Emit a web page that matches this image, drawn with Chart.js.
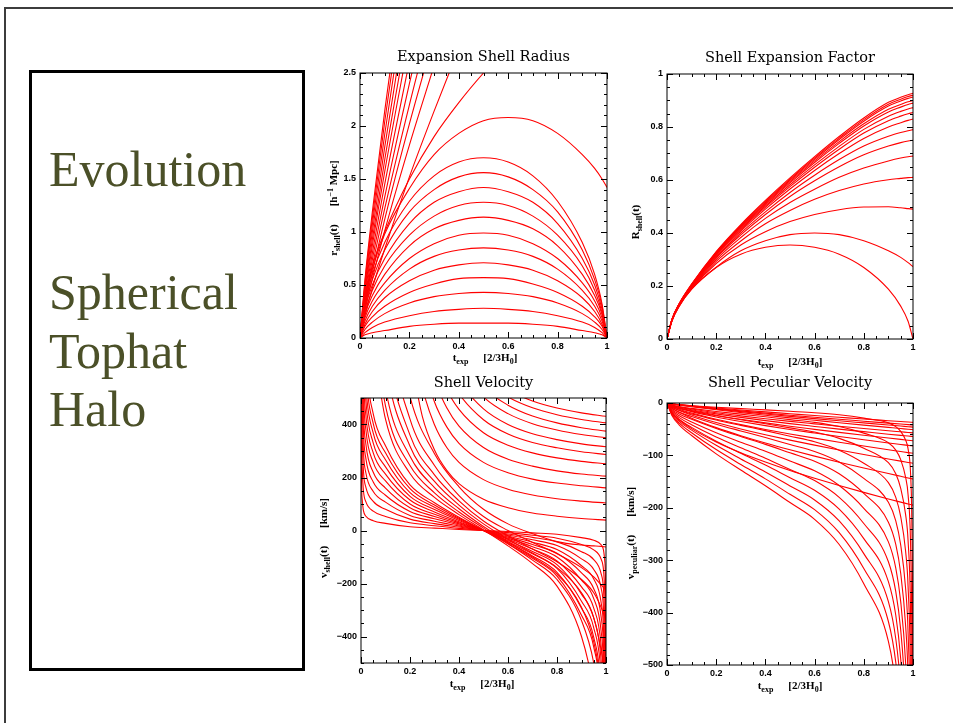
<!DOCTYPE html>
<html>
<head>
<meta charset="utf-8">
<title>Evolution - Spherical Tophat Halo</title>
<script src="https://cdn.jsdelivr.net/npm/chart.js@4.4.1/dist/chart.umd.min.js"></script>
<style>
    html, body { margin: 0; padding: 0; background: #fff; }
    body { width: 953px; height: 723px; position: relative; overflow: hidden; }
    #slide { position: absolute; left: 4px; top: 7px; width: 1000px; height: 800px;
             border-left: 2px solid #3c3c3c; border-top: 2px solid #3c3c3c; }
    #box { position: absolute; left: 29px; top: 70px; width: 270px; height: 595px; border: 3px solid #000; }
    .cap { position: absolute; left: 49px; font-family: "Liberation Serif", serif; font-size: 50px;
           line-height: 50px; color: #4b5028; white-space: nowrap; }
    canvas { position: absolute; }
</style>
</head>
<body>
<div id="slide"></div>
<div id="box"></div>
<div class="cap" style="top:144px">Evolution</div>
<div class="cap" style="top:267px">Spherical</div>
<div class="cap" style="top:326px">Tophat</div>
<div class="cap" style="top:384px">Halo</div>

<canvas id="radius" width="315" height="330" style="left:300px;top:40px"></canvas>
<canvas id="expansion" width="320" height="330" style="left:620px;top:40px"></canvas>
<canvas id="velocity" width="315" height="330" style="left:300px;top:370px"></canvas>
<canvas id="peculiar" width="320" height="330" style="left:620px;top:370px"></canvas>

<script>
// tick labels
const timeTicks = [0, 0.2, 0.4, 0.6, 0.8, 1];
const radTicks = [0, 0.5, 1, 1.5, 2, 2.5];
const expTicks = [0, 0.2, 0.4, 0.6, 0.8, 1];
const velTicks = [-400, -200, 0, 200, 400];
const pecTicks = [-500, -400, -300, -200, -100, 0];

// Expansion Shell Radius  [h^-1 Mpc]
const tRad = [0, 0.02, 0.05, 0.1, 0.2, 0.3, 0.4, 0.5, 0.6, 0.7, 0.8, 0.9, 0.95, 0.98, 1];
const radiusTophat = [
    [0, 0.03, 0.05, 0.07, 0.11, 0.13, 0.14, 0.14, 0.14, 0.13, 0.11, 0.07, 0.05, 0.03, 0],
    [0, 0.05, 0.10, 0.15, 0.21, 0.25, 0.27, 0.28, 0.27, 0.25, 0.21, 0.15, 0.10, 0.05, 0],
    [0, 0.08, 0.15, 0.23, 0.33, 0.39, 0.42, 0.43, 0.42, 0.39, 0.33, 0.23, 0.15, 0.08, 0],
    [0, 0.11, 0.20, 0.30, 0.43, 0.51, 0.56, 0.57, 0.56, 0.51, 0.43, 0.30, 0.20, 0.11, 0],
    [0, 0.13, 0.25, 0.38, 0.54, 0.64, 0.69, 0.71, 0.69, 0.64, 0.54, 0.38, 0.25, 0.13, 0],
    [0, 0.16, 0.30, 0.45, 0.65, 0.77, 0.83, 0.85, 0.83, 0.77, 0.65, 0.45, 0.30, 0.16, 0],
    [0, 0.19, 0.35, 0.52, 0.75, 0.89, 0.97, 0.99, 0.97, 0.89, 0.75, 0.52, 0.35, 0.19, 0],
    [0, 0.22, 0.40, 0.60, 0.87, 1.03, 1.11, 1.14, 1.11, 1.03, 0.87, 0.60, 0.40, 0.22, 0],
    [0, 0.24, 0.45, 0.68, 0.97, 1.15, 1.25, 1.28, 1.25, 1.15, 0.97, 0.68, 0.45, 0.24, 0],
    [0, 0.27, 0.50, 0.75, 1.08, 1.28, 1.38, 1.42, 1.38, 1.28, 1.08, 0.75, 0.50, 0.27, 0],
    [0, 0.30, 0.55, 0.83, 1.19, 1.40, 1.52, 1.56, 1.52, 1.40, 1.19, 0.83, 0.55, 0.30, 0],
    [0, 0.32, 0.60, 0.90, 1.29, 1.53, 1.66, 1.70, 1.66, 1.53, 1.29, 0.90, 0.60, 0.32, 0]
];
const radiusOuter = [
    [0, 0.36, 0.65, 0.98, 1.41, 1.73, 1.93, 2.05, 2.08, 2.05, 1.93, 1.73, 1.60, 1.50, 1.42],
    [0, 0.38, 0.68, 1.00, 1.50, 1.90, 2.22, 2.50, 2.75, 2.95],
    [0, 0.21, 0.47, 0.84, 1.52, 2.14, 2.73],
    [0, 0.26, 0.56, 1.01, 1.82, 2.57],
    [0, 0.29, 0.62, 1.12, 2.02, 2.85],
    [0, 0.31, 0.68, 1.22, 2.20, 3.11],
    [0, 0.34, 0.74, 1.33, 2.40, 3.39],
    [0, 0.37, 0.80, 1.45, 2.61],
    [0, 0.40, 0.87, 1.57, 2.83],
    [0, 0.43, 0.93, 1.68, 3.02],
    [0, 0.46, 1.00, 1.80, 3.25],
    [0, 0.49, 1.07, 1.92, 3.47],
    [0, 0.52, 1.13, 2.04, 3.68],
    [0, 0.55, 1.19, 2.14, 3.86]
];

// Shell Expansion Factor
const tExp = [0, 0.02, 0.05, 0.1, 0.2, 0.3, 0.4, 0.5, 0.6, 0.7, 0.8, 0.9, 0.95, 0.98, 1];
const expFactor = [
    [0, 0.067, 0.124, 0.188, 0.270, 0.320, 0.346, 0.355, 0.346, 0.320, 0.270, 0.188, 0.124, 0.067, 0],
    [0, 0.069, 0.125, 0.188, 0.271, 0.333, 0.371, 0.394, 0.400, 0.394, 0.371, 0.333, 0.308, 0.288, 0.273],
    [0, 0.069, 0.126, 0.190, 0.285, 0.355, 0.405, 0.443, 0.470, 0.488, 0.498, 0.499, 0.495, 0.492, 0.490],
    [0, 0.070, 0.127, 0.192, 0.293, 0.370, 0.435, 0.485, 0.527, 0.560, 0.585, 0.601, 0.606, 0.609, 0.610],
    [0, 0.070, 0.128, 0.194, 0.300, 0.383, 0.455, 0.515, 0.565, 0.610, 0.645, 0.672, 0.683, 0.688, 0.690],
    [0, 0.071, 0.129, 0.196, 0.306, 0.393, 0.470, 0.538, 0.597, 0.650, 0.695, 0.728, 0.741, 0.747, 0.750],
    [0, 0.071, 0.130, 0.198, 0.310, 0.400, 0.480, 0.553, 0.618, 0.677, 0.728, 0.765, 0.779, 0.786, 0.790],
    [0, 0.072, 0.131, 0.200, 0.315, 0.407, 0.490, 0.566, 0.636, 0.700, 0.757, 0.800, 0.816, 0.825, 0.830],
    [0, 0.072, 0.131, 0.201, 0.318, 0.412, 0.497, 0.575, 0.648, 0.716, 0.777, 0.824, 0.841, 0.850, 0.855],
    [0, 0.072, 0.132, 0.202, 0.320, 0.416, 0.502, 0.582, 0.657, 0.727, 0.791, 0.841, 0.859, 0.868, 0.873],
    [0, 0.073, 0.132, 0.203, 0.322, 0.420, 0.507, 0.589, 0.666, 0.738, 0.804, 0.857, 0.875, 0.885, 0.890],
    [0, 0.073, 0.133, 0.204, 0.324, 0.423, 0.511, 0.594, 0.672, 0.745, 0.812, 0.867, 0.885, 0.895, 0.900],
    [0, 0.073, 0.133, 0.205, 0.326, 0.426, 0.515, 0.599, 0.678, 0.753, 0.822, 0.879, 0.898, 0.908, 0.913],
    [0, 0.074, 0.134, 0.206, 0.328, 0.429, 0.519, 0.603, 0.683, 0.758, 0.828, 0.886, 0.905, 0.915, 0.920],
    [0, 0.074, 0.134, 0.207, 0.330, 0.432, 0.523, 0.608, 0.688, 0.764, 0.834, 0.893, 0.912, 0.922, 0.927]
];

// Shell Velocity  [km/s]
const tVelTophat = [0, 0.002, 0.005, 0.01, 0.02, 0.05, 0.1, 0.2, 0.3, 0.4, 0.5, 0.6, 0.7, 0.8, 0.9, 0.95, 0.98, 0.99, 0.995, 0.998, 1];
const velTophat = [
    [750, 208, 117, 75, 54, 37, 27, 14, 9, 4, 0, -4, -9, -14, -27, -37, -54, -75, -117, -208, -750],
    [1500, 417, 233, 150, 108, 73, 53, 29, 18, 8, 0, -8, -18, -29, -53, -73, -108, -150, -233, -417, -1500],
    [2250, 625, 350, 225, 163, 110, 80, 43, 26, 13, 0, -13, -26, -43, -80, -110, -163, -225, -350, -625, -2250],
    [3000, 833, 467, 300, 217, 147, 107, 57, 35, 17, 0, -17, -35, -57, -107, -147, -217, -300, -467, -833, -3000],
    [3750, 1042, 583, 375, 271, 183, 133, 72, 44, 21, 0, -21, -44, -72, -133, -183, -271, -375, -583, -1042, -3750],
    [4500, 1250, 700, 450, 325, 220, 160, 86, 53, 25, 0, -25, -53, -86, -160, -220, -325, -450, -700, -1250, -4500],
    [5250, 1458, 817, 525, 379, 257, 187, 100, 61, 29, 0, -29, -61, -100, -187, -257, -379, -525, -817, -1458, -5250],
    [6000, 1667, 933, 600, 433, 293, 213, 115, 70, 33, 0, -33, -70, -115, -213, -293, -433, -600, -933, -1667, -6000],
    [6750, 1875, 1050, 675, 488, 330, 240, 129, 79, 38, 0, -38, -79, -129, -240, -330, -488, -675, -1050, -1875, -6750],
    [7500, 2083, 1167, 750, 542, 367, 267, 143, 88, 42, 0, -42, -88, -143, -267, -367, -542, -750, -1167, -2083, -7500],
    [8250, 2292, 1283, 825, 596, 403, 293, 158, 96, 46, 0, -46, -96, -158, -293, -403, -596, -825, -1283, -2292, -8250],
    [9000, 2500, 1400, 900, 650, 440, 320, 172, 105, 50, 0, -50, -105, -172, -320, -440, -650, -900, -1400, -2500, -9000]
];
const tVelLate = [0.05, 0.1, 0.2, 0.3, 0.4, 0.5, 0.6, 0.7, 0.8, 0.9, 0.95, 0.98, 1];
const velLate = [
    [700, 420, 215, 125, 60, 2, -58, -125, -210, -400, -600, -800, -1000],
    [800, 470, 245, 142, 70, 9, -50, -112, -185, -340, -500, -700, -900],
    [900, 535, 280, 162, 82, 15, -43, -100, -165, -290, -420, -580, -750],
    [1050, 630, 318, 185, 96, 25, -33, -85, -140, -235, -330, -450, -560],
    [1200, 720, 360, 210, 112, 36, -20, -70, -118, -185, -235, -290, -340],
    [1400, 840, 420, 245, 132, 53, 0, -45, -88, -140, -175, -205, -225],
    [1600, 1000, 505, 290, 165, 80, 25, -12, -42, -55, -58, -60, -62]
];
const tVelFree = [0.2, 0.25, 0.3, 0.35, 0.4, 0.5, 0.6, 0.7, 0.8, 0.9, 1];
const velFree = [
    [668, 432, 304, 227, 177, 118, 86, 66, 54, 45, 39],
    [804, 542, 399, 313, 257, 192, 156, 134, 120, 111, 104],
    [931, 642, 485, 391, 329, 257, 218, 194, 179, 169, 161],
    [1070, 746, 570, 463, 394, 313, 269, 243, 225, 213, 205],
    [1190, 838, 647, 532, 457, 369, 322, 293, 274, 261, 252],
    [1332, 940, 727, 599, 516, 418, 364, 332, 312, 297, 287],
    [1456, 1029, 796, 656, 565, 459, 400, 365, 343, 327, 316],
    [1582, 1120, 869, 718, 620, 504, 441, 403, 379, 362, 350],
    [1697, 1201, 932, 770, 664, 540, 473, 432, 406, 388, 375],
    [1729, 1233, 963, 801, 695, 571, 504, 463, 437, 419, 406],
    [1773, 1270, 996, 832, 725, 599, 530, 489, 462, 444, 431]
];

// Shell Peculiar Velocity  [km/s]
const tPecTophat = [0, 0.02, 0.05, 0.1, 0.2, 0.3, 0.4, 0.5, 0.6, 0.7, 0.8, 0.9, 0.93, 0.95, 0.97, 0.98, 0.99, 0.995, 0.998, 1];
const pecTophat = [
    [0, -2, -3.5, -5.2, -8.1, -10.7, -13.2, -15.8, -18.5, -22.5, -28.8, -37.9, -45, -54.2, -70.8, -87.5, -133, -217, -375, -750],
    [0, -4, -7, -10.3, -16.2, -21.3, -26.3, -31.7, -37, -45, -57.5, -75.8, -90, -108, -142, -175, -267, -433, -750, -1500],
    [0, -6, -10.5, -15.5, -24.3, -32, -39.5, -47.5, -55.5, -67.5, -86.3, -114, -135, -163, -213, -263, -400, -650, -1125, -2250],
    [0, -8, -14, -20.7, -32.3, -42.7, -52.7, -63.3, -74, -90, -115, -152, -180, -217, -283, -350, -533, -867, -1500, -3000],
    [0, -10, -17.5, -25.8, -40.4, -53.3, -65.8, -79.2, -92.5, -112.5, -143.8, -189.6, -225, -271, -354, -438, -667, -1083, -1875, -3750],
    [0, -12, -21, -31, -48.5, -64, -79, -95, -111, -135, -172.5, -227.5, -270, -325, -425, -525, -800, -1300, -2250, -4500],
    [0, -14, -24.5, -36.2, -56.6, -74.7, -92.2, -110.8, -129.5, -157.5, -201, -265, -315, -379, -496, -613, -933, -1517, -2625, -5250],
    [0, -16, -28, -41.3, -64.7, -85.3, -105.3, -126.7, -148, -180, -230, -303, -360, -433, -567, -700, -1067, -1733, -3000, -6000],
    [0, -18, -31.5, -46.5, -72.8, -96, -118.5, -142.5, -166.5, -202.5, -258.8, -341, -405, -488, -638, -788, -1200, -1950, -3375, -6750],
    [0, -20, -35, -51.7, -80.8, -106.7, -131.7, -158.3, -185, -225, -287.5, -379, -450, -542, -708, -875, -1333, -2167, -3750, -7500],
    [0, -22, -38.5, -56.8, -88.9, -117.3, -144.8, -174.2, -203.5, -247.5, -316, -417, -495, -596, -779, -963, -1467, -2383, -4125, -8250],
    [0, -24, -42, -62, -97, -128, -158, -190, -222, -270, -345, -455, -540, -650, -850, -1050, -1600, -2600, -4500, -9000]
];
const tPecFree = [0, 0.02, 0.05, 0.1, 0.2, 0.3, 0.4, 0.5, 0.6, 0.7, 0.8, 0.9, 0.95, 0.98, 1];
const pecFree = [
    [0, -1.3, -2.9, -5.2, -9.4, -13.3, -17, -20.5, -24, -27.3, -30.6, -33.8, -35.4, -36.4, -37],
    [0, -1.5, -3.3, -5.9, -10.7, -15.1, -19.3, -23.3, -27.2, -31, -34.7, -38.4, -40.2, -41.3, -42],
    [0, -1.7, -3.6, -6.5, -11.7, -16.5, -21.1, -25.5, -29.8, -34, -38, -42, -44, -45.2, -46],
    [0, -1.8, -4, -7.2, -13, -18.3, -23.4, -28.3, -33, -37.7, -42.2, -46.6, -48.8, -50.1, -51],
    [0, -3.7, -7, -11.4, -18.5, -24.5, -30, -35.1, -39.8, -44.4, -48.7, -53, -55, -56.2, -57],
    [0, -4.2, -7.9, -12.8, -20.7, -27.5, -33.7, -39.4, -44.7, -49.9, -54.7, -59.5, -61.8, -63.1, -64],
    [0, -4.7, -8.9, -14.4, -23.3, -31, -37.9, -44.4, -50.3, -56.1, -61.6, -66.9, -69.5, -71, -72],
    [0, -5.3, -10.1, -16.4, -26.6, -35.3, -43.2, -50.5, -57.3, -63.9, -70.1, -76.2, -79.1, -80.9, -82],
    [0, -6.2, -11.8, -19.2, -31.1, -41.3, -50.6, -59.1, -67.1, -74.8, -82.1, -89.2, -92.6, -94.7, -96],
    [0, -7.5, -14.1, -23, -37.3, -49.5, -60.6, -70.8, -80.4, -89.6, -98.3, -106.8, -111, -113.4, -115],
    [0, -9.4, -17.8, -29, -47, -62.4, -76.4, -89.3, -101.4, -113, -124, -134.7, -139.9, -143, -145],
    [0, -18.7, -32.4, -48.9, -74.3, -94.8, -112.5, -128.7, -143.5, -157.4, -170.6, -183.1, -189.2, -192.7, -195]
];

const RED = 'rgb(255, 0, 0)';

function series(xs, ys) {
    const pts = [];
    ys.forEach((y, i) => {
        if (y !== null && y !== undefined) pts.push({ x: xs[i], y: y });
    });
    return pts;
}

function lines(xs, group) {
    return group.map(ys => ({
        data: series(xs, ys),
        borderColor: RED,
        borderWidth: 1.1,
        pointRadius: 0,
        fill: false,
        cubicInterpolationMode: 'monotone'
    }));
}

function fmt(v) {
    return v < 0 ? '\u2212' + Math.abs(v) : String(v);
}

// text with sub/superscripts, centred on (cx, cy)
function drawRuns(ctx, runs, cx, cy, vertical) {
    const big = 'bold 11px "Liberation Serif"';
    const small = 'bold 8px "Liberation Serif"';
    const widths = runs.map(r => {
        if (r[1] === 'gap') return r[2];
        ctx.font = r[1] ? small : big;
        return ctx.measureText(r[0]).width;
    });
    const total = widths.reduce((a, b) => a + b, 0);
    ctx.save();
    ctx.translate(cx, cy);
    if (vertical) ctx.rotate(-Math.PI / 2);
    ctx.fillStyle = '#000';
    ctx.textBaseline = 'alphabetic';
    ctx.textAlign = 'left';
    let x = -total / 2;
    runs.forEach((r, i) => {
        if (r[1] !== 'gap') {
            ctx.font = r[1] ? small : big;
            const dy = r[1] === 'sub' ? 3 : (r[1] === 'sup' ? -4 : 0);
            ctx.fillText(r[0], x, 4 + dy);
        }
        x += widths[i];
    });
    ctx.restore();
}

// box with inward ticks on all four sides, plus titles
const framePlugin = {
    id: 'frame',
    afterDraw(chart, args, o) {
        const ctx = chart.ctx;
        const a = chart.chartArea;
        const xs = chart.scales.x, ys = chart.scales.y;
        ctx.save();
        ctx.strokeStyle = '#000';
        ctx.lineWidth = 1;
        ctx.strokeRect(a.left, a.top, a.right - a.left, a.bottom - a.top);
        ctx.beginPath();
        const xTick = (v, len) => {
            const p = Math.round(xs.getPixelForValue(v)) + 0.5;
            ctx.moveTo(p, a.bottom); ctx.lineTo(p, a.bottom - len);
            ctx.moveTo(p, a.top); ctx.lineTo(p, a.top + len);
        };
        const yTick = (v, len) => {
            const p = Math.round(ys.getPixelForValue(v)) + 0.5;
            ctx.moveTo(a.left, p); ctx.lineTo(a.left + len, p);
            ctx.moveTo(a.right, p); ctx.lineTo(a.right - len, p);
        };
        for (let v = xs.min; v <= xs.max + 1e-9; v += o.xMinor) xTick(v, 3);
        for (let v = ys.min; v <= ys.max + 1e-9; v += o.yMinor) yTick(v, 3);
        o.xTicks.forEach(v => xTick(v, 6));
        o.yTicks.forEach(v => yTick(v, 6));
        ctx.stroke();

        ctx.fillStyle = '#000';
        ctx.font = '14.5px "DejaVu Serif"';
        ctx.textAlign = 'center';
        ctx.textBaseline = 'middle';
        ctx.fillText(o.title, (a.left + a.right) / 2, o.titleY);
        ctx.restore();

        drawRuns(ctx, o.xTitle, o.xPos[0], o.xPos[1], false);
        drawRuns(ctx, o.yTitle, o.yPos[0], o.yPos[1], true);
    }
};

const xTitleRuns = [['t', ''], ['exp', 'sub'], ['', 'gap', 15], ['[2/3H', ''], ['0', 'sub'], [']', '']];
const tickFont = { family: 'Liberation Sans', weight: 'bold', size: 9 };

function panel(id, c) {
    return new Chart(document.getElementById(id), {
        type: 'line',
        data: { datasets: c.datasets },
        options: {
            responsive: false,
            animation: false,
            events: [],
            layout: { padding: { top: c.padTop, right: c.padRight, left: 0, bottom: 0 } },
            plugins: {
                legend: { display: false },
                tooltip: { enabled: false },
                title: { display: false },
                frame: {
                    title: c.title, titleY: c.titleY,
                    xTicks: timeTicks, yTicks: c.yTicks,
                    xMinor: 0.05, yMinor: c.yMinor,
                    xTitle: xTitleRuns, xPos: c.xPos,
                    yTitle: c.yTitle, yPos: c.yPos
                }
            },
            scales: {
                x: {
                    type: 'linear', min: 0, max: 1,
                    grid: { display: false, drawTicks: false },
                    border: { display: false },
                    afterBuildTicks: s => { s.ticks = timeTicks.map(v => ({ value: v })); },
                    afterFit: s => { s.height = c.xH; },
                    ticks: { font: tickFont, color: '#000', padding: 3, maxRotation: 0, autoSkip: false, callback: fmt }
                },
                y: {
                    type: 'linear', min: c.yMin, max: c.yMax,
                    grid: { display: false, drawTicks: false },
                    border: { display: false },
                    afterBuildTicks: s => { s.ticks = c.yTicks.map(v => ({ value: v })); },
                    afterFit: s => { s.width = c.yW; },
                    ticks: { font: tickFont, color: '#000', padding: 4, autoSkip: false, callback: fmt }
                }
            }
        },
        plugins: [framePlugin]
    });
}

window.onload = function () {
    panel('radius', {
        datasets: lines(tRad, radiusTophat).concat(lines(tRad, radiusOuter)),
        title: 'Expansion Shell Radius', titleY: 17,
        padTop: 33, padRight: 8, yW: 60, xH: 32,
        yMin: 0, yMax: 2.5, yTicks: radTicks, yMinor: 0.1,
        xPos: [185, 317], yPos: [33, 168],
        yTitle: [['r', ''], ['shell', 'sub'], ['(t)', ''], ['', 'gap', 18], ['[h', ''], ['\u22121', 'sup'], [' Mpc]', '']]
    });

    panel('expansion', {
        datasets: lines(tExp, expFactor),
        title: 'Shell Expansion Factor', titleY: 18,
        padTop: 34, padRight: 27, yW: 47, xH: 31,
        yMin: 0, yMax: 1, yTicks: expTicks, yMinor: 0.05,
        xPos: [170, 321], yPos: [15, 182],
        yTitle: [['R', ''], ['shell', 'sub'], ['(t)', '']]
    });

    panel('velocity', {
        datasets: lines(tVelTophat, velTophat).concat(lines(tVelLate, velLate), lines(tVelFree, velFree)),
        title: 'Shell Velocity', titleY: 13,
        padTop: 28, padRight: 9, yW: 61, xH: 37,
        yMin: -500, yMax: 500, yTicks: velTicks, yMinor: 50,
        xPos: [182, 313], yPos: [23, 168],
        yTitle: [['v', ''], ['shell', 'sub'], ['(t)', ''], ['', 'gap', 18], ['[km/s]', '']]
    });

    panel('peculiar', {
        datasets: lines(tPecTophat, pecTophat).concat(lines(tPecFree, pecFree)),
        title: 'Shell Peculiar Velocity', titleY: 13,
        padTop: 33, padRight: 27, yW: 47, xH: 35,
        yMin: -500, yMax: 0, yTicks: pecTicks, yMinor: 20,
        xPos: [170, 315], yPos: [10, 163],
        yTitle: [['v', ''], ['peculiar', 'sub'], ['(t)', ''], ['', 'gap', 18], ['[km/s]', '']]
    });
};
</script>
</body>
</html>
